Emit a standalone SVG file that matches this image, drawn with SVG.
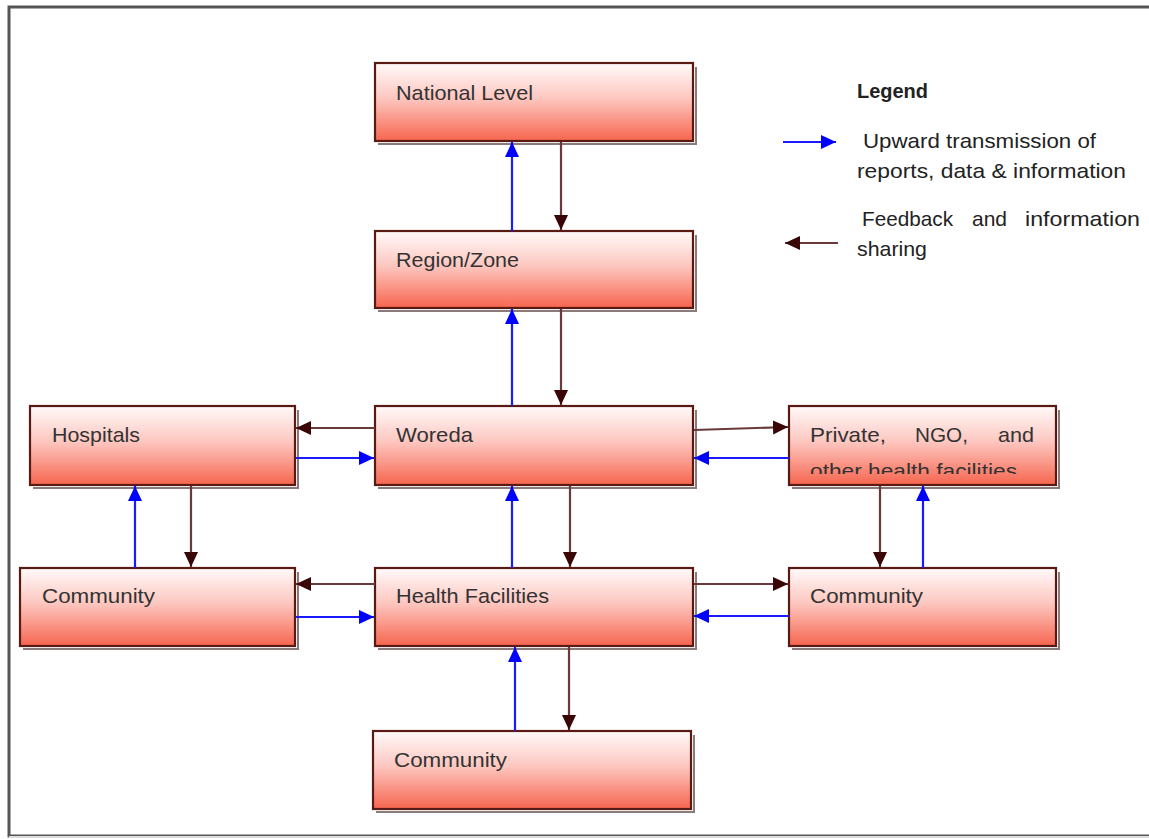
<svg xmlns="http://www.w3.org/2000/svg" width="1149" height="839" viewBox="0 0 1149 839">
<defs>
<linearGradient id="g" x1="0" y1="0" x2="0" y2="1">
<stop offset="0" stop-color="#fffafa"/>
<stop offset="0.45" stop-color="#fdc7c0"/>
<stop offset="1" stop-color="#f6654f"/>
</linearGradient>
<marker id="hb" markerUnits="userSpaceOnUse" markerWidth="16" markerHeight="16" refX="15" refY="8" orient="auto">
<path d="M0,1 L15,8 L0,15 Z" fill="#0000ff"/>
</marker>
<marker id="hr" markerUnits="userSpaceOnUse" markerWidth="16" markerHeight="16" refX="15" refY="8" orient="auto">
<path d="M0,1 L15,8 L0,15 Z" fill="#3a0505"/>
</marker>
<clipPath id="clipP"><rect x="789" y="406" width="267" height="68"/></clipPath>
</defs>
<style>
.box{fill:url(#g);stroke:#5a1a14;stroke-width:2.2}
.sh{fill:none;stroke:#8a7a7a;stroke-width:2}
.t{font-family:"Liberation Sans",Arial,sans-serif;font-size:21px;fill:#333}
.lg{font-family:"Liberation Sans",Arial,sans-serif;font-size:21px;fill:#222}
.up{stroke:#1a1aff;stroke-width:2.2;fill:none;marker-end:url(#hb)}
.dn{stroke:#6a3a3a;stroke-width:2.2;fill:none;marker-end:url(#hr)}
</style>
<rect x="9" y="7" width="1150" height="829" fill="#fff" stroke="#555" stroke-width="3"/>
<line x1="9" y1="837" x2="1149" y2="837" stroke="#ddd" stroke-width="2"/>

<g id="national">
<path class="sh" d="M378,144 H696 V67"/>
<rect class="box" x="375" y="63" width="318" height="78"/>
<text class="t" x="396" y="100" textLength="137" lengthAdjust="spacingAndGlyphs">National Level</text>
</g>
<g id="region">
<path class="sh" d="M378,311 H696 V235"/>
<rect class="box" x="375" y="231" width="318" height="77"/>
<text class="t" x="396" y="267" textLength="123" lengthAdjust="spacingAndGlyphs">Region/Zone</text>
</g>
<g id="woreda">
<path class="sh" d="M378,488 H696 V410"/>
<rect class="box" x="375" y="406" width="318" height="79"/>
<text class="t" x="396" y="442" textLength="77" lengthAdjust="spacingAndGlyphs">Woreda</text>
</g>
<g id="hospitals">
<path class="sh" d="M33,488 H298 V410"/>
<rect class="box" x="30" y="406" width="265" height="79"/>
<text class="t" x="52" y="442" textLength="88" lengthAdjust="spacingAndGlyphs">Hospitals</text>
</g>
<g id="private">
<path class="sh" d="M792,488 H1059 V410"/>
<rect class="box" x="789" y="406" width="267" height="79"/>
<g clip-path="url(#clipP)">
<text class="t" x="810" y="442" textLength="76" lengthAdjust="spacingAndGlyphs">Private,</text>
<text class="t" x="915" y="442" textLength="53" lengthAdjust="spacingAndGlyphs">NGO,</text>
<text class="t" x="998" y="442" textLength="36" lengthAdjust="spacingAndGlyphs">and</text>
<text class="t" x="810" y="478" textLength="207" lengthAdjust="spacingAndGlyphs">other health facilities</text>
</g>
</g>
<g id="community-left">
<path class="sh" d="M23,649 H298 V572"/>
<rect class="box" x="20" y="568" width="275" height="78"/>
<text class="t" x="42" y="603" textLength="113" lengthAdjust="spacingAndGlyphs">Community</text>
</g>
<g id="health-facilities">
<path class="sh" d="M378,649 H696 V572"/>
<rect class="box" x="375" y="568" width="318" height="78"/>
<text class="t" x="396" y="603" textLength="153" lengthAdjust="spacingAndGlyphs">Health Facilities</text>
</g>
<g id="community-right">
<path class="sh" d="M792,649 H1059 V572"/>
<rect class="box" x="789" y="568" width="267" height="78"/>
<text class="t" x="810" y="603" textLength="113" lengthAdjust="spacingAndGlyphs">Community</text>
</g>
<g id="community-bottom">
<path class="sh" d="M376,812 H694 V735"/>
<rect class="box" x="373" y="731" width="318" height="78"/>
<text class="t" x="394" y="767" textLength="113" lengthAdjust="spacingAndGlyphs">Community</text>
</g>

<g id="connectors">
<line class="up" x1="512" y1="231" x2="512" y2="142"/>
<line class="dn" x1="561" y1="142" x2="561" y2="230"/>
<line class="up" x1="512" y1="406" x2="512" y2="309"/>
<line class="dn" x1="561" y1="309" x2="561" y2="405"/>
<line class="up" x1="512" y1="568" x2="512" y2="486"/>
<line class="dn" x1="570" y1="486" x2="570" y2="567"/>
<line class="up" x1="515" y1="731" x2="515" y2="647"/>
<line class="dn" x1="569" y1="647" x2="569" y2="730"/>
<line class="dn" x1="375" y1="428" x2="296" y2="428"/>
<line class="up" x1="296" y1="458" x2="374" y2="458"/>
<line class="up" x1="135" y1="568" x2="135" y2="486"/>
<line class="dn" x1="191" y1="486" x2="191" y2="567"/>
<line class="dn" x1="375" y1="584" x2="296" y2="584"/>
<line class="up" x1="296" y1="617" x2="374" y2="617"/>
<line class="dn" x1="694" y1="430" x2="788" y2="427"/>
<line class="up" x1="789" y1="458" x2="694" y2="458"/>
<line class="dn" x1="880" y1="486" x2="880" y2="567"/>
<line class="up" x1="923" y1="568" x2="923" y2="486"/>
<line class="dn" x1="694" y1="584" x2="788" y2="584"/>
<line class="up" x1="789" y1="616" x2="694" y2="616"/>
</g>

<g id="legend">
<text class="lg" x="857" y="98" font-weight="bold" textLength="71" lengthAdjust="spacingAndGlyphs">Legend</text>
<line class="up" x1="783" y1="142" x2="836" y2="142"/>
<text class="lg" x="863" y="148" textLength="233" lengthAdjust="spacingAndGlyphs">Upward transmission of</text>
<text class="lg" x="857" y="178" textLength="269" lengthAdjust="spacingAndGlyphs">reports, data &amp; information</text>
<text class="lg" x="862" y="226" textLength="91" lengthAdjust="spacingAndGlyphs">Feedback</text>
<text class="lg" x="972" y="226">and</text>
<text class="lg" x="1025" y="226" textLength="115" lengthAdjust="spacingAndGlyphs">information</text>
<text class="lg" x="857" y="256" textLength="70" lengthAdjust="spacingAndGlyphs">sharing</text>
<line class="dn" x1="838" y1="243" x2="785" y2="243"/>
</g>
</svg>
